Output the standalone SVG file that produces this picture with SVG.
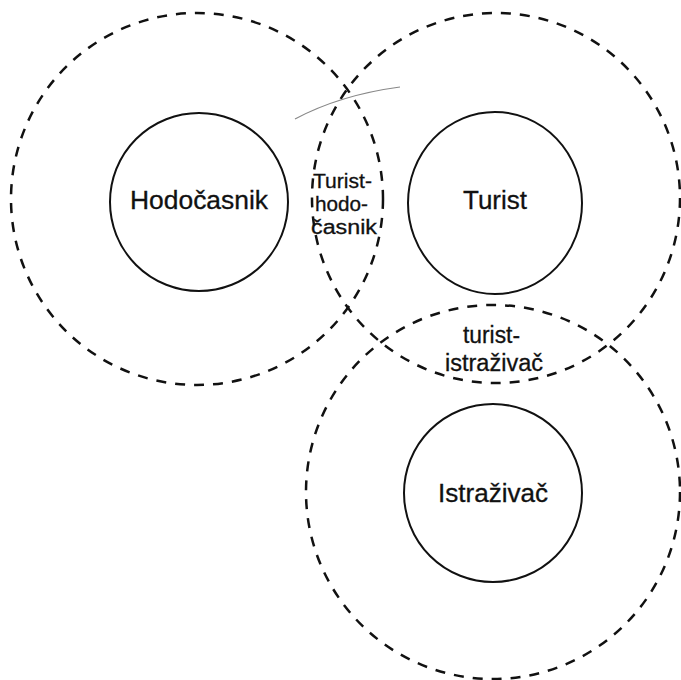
<svg xmlns="http://www.w3.org/2000/svg" width="681" height="680" viewBox="0 0 681 680">
<style>
.dash{fill:none;stroke:#111;stroke-width:2.5;stroke-dasharray:10 9}
.solid{fill:none;stroke:#111;stroke-width:2}
.big{font-family:"Liberation Sans",Arial,sans-serif;font-size:25px;fill:#111;stroke:#111;stroke-width:0.3}
.small{font-family:"Liberation Sans",Arial,sans-serif;font-size:23px;fill:#111;stroke:#111;stroke-width:0.3}
.tiny{font-family:"Liberation Sans",Arial,sans-serif;font-size:20px;fill:#111;stroke:#111;stroke-width:0.3}
</style>
<rect width="681" height="680" fill="#ffffff"/>
<g id="zones">
<ellipse id="zone-hodocasnik" class="dash" cx="197" cy="199" rx="186" ry="186"/>
<ellipse id="zone-turist" class="dash" cx="496" cy="198" rx="184" ry="185"/>
<ellipse id="zone-istrazivac" class="dash" cx="493" cy="492" rx="187" ry="187"/>
</g>
<g id="hodocasnik">
<ellipse class="solid" cx="199" cy="202" rx="89" ry="89"/>
<text class="big" x="130" y="209" textLength="138" lengthAdjust="spacingAndGlyphs">Hodočasnik</text>
</g>
<g id="turist">
<ellipse class="solid" cx="495" cy="203" rx="87" ry="91"/>
<text class="big" x="463" y="209" textLength="64" lengthAdjust="spacingAndGlyphs">Turist</text>
</g>
<g id="istrazivac">
<ellipse class="solid" cx="493" cy="493" rx="89" ry="89"/>
<text class="big" x="438" y="502" textLength="110" lengthAdjust="spacingAndGlyphs">Istraživač</text>
</g>
<g id="turist-hodocasnik">
<text class="tiny" x="313" y="188" textLength="59" lengthAdjust="spacingAndGlyphs">Turist-</text>
<text class="tiny" x="315" y="211" textLength="53" lengthAdjust="spacingAndGlyphs">hodo-</text>
<text class="tiny" x="311" y="234" textLength="66" lengthAdjust="spacingAndGlyphs">časnik</text>
</g>
<g id="turist-istrazivac">
<text class="small" x="463" y="343" textLength="57" lengthAdjust="spacingAndGlyphs">turist-</text>
<text class="small" x="445" y="371" textLength="98" lengthAdjust="spacingAndGlyphs">istraživač</text>
</g>
<g id="connectors"></g>
<path d="M295 119 Q340 95 400 87" fill="none" stroke="#888" stroke-width="1.2"/>
</svg>
